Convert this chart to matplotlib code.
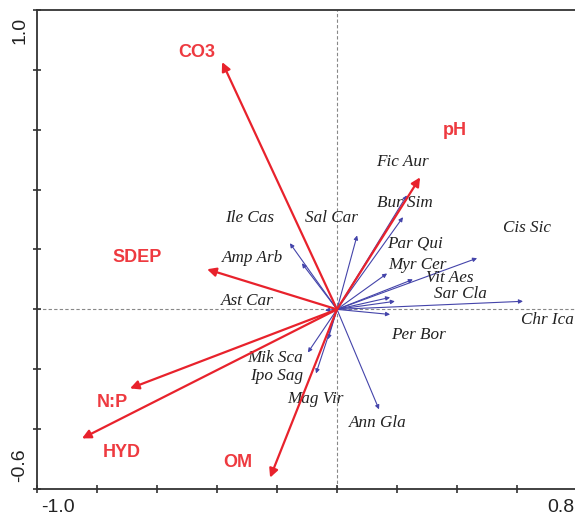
import numpy as np
import matplotlib
matplotlib.use('Agg')
import matplotlib.pyplot as plt

# environmental variables (red arrows)
env_names = ['CO3', 'pH', 'SDEP', 'N:P', 'HYD', 'OM']
env_x = [-0.383, 0.277, -0.433, -0.69, -0.85, -0.223]
env_y = [0.826, 0.441, 0.134, -0.264, -0.431, -0.562]
env_lx = [-0.467, 0.393, -0.667, -0.75, -0.717, -0.33]
env_ly = [0.858, 0.599, 0.174, -0.311, -0.478, -0.512]

# species (blue arrows)
sp_names = ['Ile Cas', 'Amp Arb', 'Sal Car', 'Fic Aur', 'Bur Sim', 'Par Qui',
            'Myr Cer', 'Vit Aes', 'Cis Sic', 'Sar Cla', 'Chr Ica', 'Per Bor',
            'Ast Car', 'Mik Sca', 'Ipo Sag', 'Mag Vir', 'Ann Gla']
sp_x = [-0.157, -0.117, 0.067, 0.233, 0.22, 0.167, 0.177, 0.253, 0.467,
        0.193, 0.62, 0.177, -0.04, -0.097, -0.07, -0.03, 0.14]
sp_y = [0.221, 0.154, 0.247, 0.381, 0.308, 0.120, 0.040, 0.10, 0.171,
        0.027, 0.027, -0.017, -0.003, -0.144, -0.214, -0.10, -0.334]
sp_lx = [-0.293, -0.28, -0.017, 0.217, 0.227, 0.26, 0.267, 0.377, 0.633,
         0.41, 0.70, 0.27, -0.30, -0.207, -0.20, -0.073, 0.137]
sp_ly = [0.304, 0.171, 0.304, 0.492, 0.355, 0.221, 0.147, 0.104, 0.271,
         0.05, -0.037, -0.087, 0.027, -0.161, -0.224, -0.298, -0.381]

x_range = (-1.0, 0.8)
y_range = (-0.6, 1.0)

fig = plt.figure(figsize=(5.75, 5.17), dpi=100)
ax = fig.add_axes([37 / 575, 28 / 517, 540 / 575, 479 / 517])
ax.set_xlim(*x_range)
ax.set_ylim(*y_range)

for side in ('left', 'bottom', 'top'):
    ax.spines[side].set_color('#333333')
    ax.spines[side].set_linewidth(1.3)
ax.spines['right'].set_visible(False)

ax.set_xticks(np.arange(-1.0, 0.81, 0.2))
ax.set_yticks(np.arange(-0.6, 1.01, 0.2))
ax.tick_params(direction='inout', length=6, width=1.2, color='#333333',
               labelbottom=False, labelleft=False)

ax.axhline(0, color='#888888', lw=0.8, ls=(0, (3, 2)), zorder=1)
ax.axvline(0, color='#888888', lw=0.8, ls=(0, (3, 2)), zorder=1)

# species arrows
for name, x, y, lx, ly in zip(sp_names, sp_x, sp_y, sp_lx, sp_ly):
    ax.annotate('', xy=(x, y), xytext=(0, 0),
                arrowprops=dict(arrowstyle='-|>', color='#4444aa', lw=0.8,
                                mutation_scale=6, shrinkA=0, shrinkB=0),
                zorder=2)
    ax.text(lx, ly, name, ha='center', va='center', fontsize=12.3,
            style='italic', family='Liberation Serif', color='#222222')

# environmental arrows
for name, x, y, lx, ly in zip(env_names, env_x, env_y, env_lx, env_ly):
    ax.annotate('', xy=(x, y), xytext=(0, 0),
                arrowprops=dict(arrowstyle='-|>', color='#e8222c', lw=1.6,
                                mutation_scale=13, shrinkA=0, shrinkB=0),
                zorder=3)
    ax.text(lx, ly, name, ha='center', va='center', fontsize=13,
            fontweight='bold', family='Liberation Sans', color='#ee3a40')

# end labels of the axes
tick_kw = dict(fontsize=14, family='Liberation Sans', color='#222222',
               ha='center', va='center')
fig.text(20 / 575, 1 - 30 / 517, '1.0', rotation=90, **tick_kw)
fig.text(20 / 575, 1 - 465 / 517, '-0.6', rotation=90, **tick_kw)
fig.text(58 / 575, 1 - 508 / 517, '-1.0', **tick_kw)
fig.text(561 / 575, 1 - 507 / 517, '0.8', **tick_kw)

fig.savefig('out.png', dpi=100)
